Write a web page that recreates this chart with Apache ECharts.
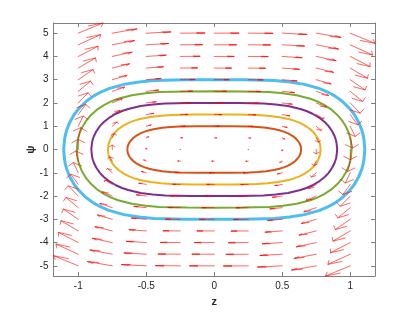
<!DOCTYPE html>
<html>
<head>
<meta charset="utf-8">
<script src="https://cdn.jsdelivr.net/npm/echarts@6/dist/echarts.min.js"></script>
<style>html,body{margin:0;padding:0;background:#fff;}#c{width:415px;height:312px;}</style>
</head>
<body>
<div id="c"></div>
<script>
// Axis ticks
const zTicks = [-1, -0.5, 0, 0.5, 1];
const psiTicks = [-5, -4, -3, -2, -1, 0, 1, 2, 3, 4, 5];

// Quiver grid (arrow tails) and arrow components
const colZ = [-1, -0.75, -0.5, -0.25, 0, 0.25, 0.5, 0.75, 1];
const colDpsi = [0.437, 0.184, 0.0546, 0.0068, 0, -0.0068, -0.0546, -0.184, -0.437];
const rowPsi = [-5, -4.5, -4, -3.5, -3, -2.5, -2, -1.5, -1, -0.5, 0, 0.5, 1, 1.5, 2, 2.5, 3, 3.5, 4, 4.5, 5];
const rowDz = [-0.182, -0.164, -0.146, -0.127, -0.109, -0.091, -0.073, -0.055, -0.036, -0.018, 0, 0.018, 0.036, 0.055, 0.073, 0.091, 0.109, 0.127, 0.146, 0.164, 0.182];

// Closed orbits: upper-right quarter points (z >= 0, psi >= 0)
const orangeZ = [0, 0.128, 0.256, 0.320, 0.383, 0.447, 0.479, 0.511, 0.543, 0.575, 0.594, 0.613, 0.626, 0.633, 0.636, 0.639];
const orangePsi = [1, 0.999, 0.987, 0.968, 0.933, 0.872, 0.827, 0.768, 0.691, 0.586, 0.502, 0.388, 0.279, 0.198, 0.141, 0];
const yellowZ = [0, 0.156, 0.313, 0.391, 0.469, 0.547, 0.587, 0.626, 0.665, 0.704, 0.727, 0.751, 0.766, 0.774, 0.778, 0.782];
const yellowPsi = [1.5, 1.499, 1.481, 1.452, 1.399, 1.308, 1.240, 1.153, 1.037, 0.880, 0.753, 0.582, 0.418, 0.298, 0.211, 0];
const purpleZ = [0, 0.181, 0.362, 0.452, 0.542, 0.633, 0.678, 0.723, 0.768, 0.814, 0.841, 0.868, 0.886, 0.895, 0.899, 0.904];
const purplePsi = [2, 1.998, 1.974, 1.937, 1.866, 1.743, 1.654, 1.537, 1.383, 1.173, 1.004, 0.776, 0.557, 0.397, 0.282, 0];
const greenZ = [0, 0.202, 0.404, 0.505, 0.606, 0.707, 0.758, 0.808, 0.859, 0.909, 0.939, 0.970, 0.990, 1.000, 1.005, 1.010];
const greenPsi = [2.5, 2.498, 2.468, 2.421, 2.332, 2.179, 2.067, 1.921, 1.728, 1.466, 1.255, 0.970, 0.697, 0.496, 0.352, 0];
const blueZ = [0, 0.221, 0.443, 0.553, 0.664, 0.775, 0.830, 0.886, 0.941, 0.996, 1.030, 1.063, 1.085, 1.096, 1.101, 1.107];
const bluePsi = [3, 2.998, 2.961, 2.905, 2.799, 2.615, 2.480, 2.305, 2.074, 1.759, 1.506, 1.164, 0.836, 0.595, 0.423, 0];

const X_MIN = -1.182, X_MAX = 1.182, Y_MIN = -5.437, Y_MAX = 5.437;

function loop(zq, pq) {
  const n = zq.length, pts = [];
  for (let i = 0; i < n; i++) pts.push([zq[i], pq[i]]);
  for (let i = n - 2; i >= 0; i--) pts.push([zq[i], -pq[i]]);
  for (let i = 1; i < n; i++) pts.push([-zq[i], -pq[i]]);
  for (let i = n - 2; i >= 0; i--) pts.push([-zq[i], pq[i]]);
  return pts;
}

const quiverData = [];
for (let i = 0; i < rowPsi.length; i++) {
  for (let j = 0; j < colZ.length; j++) {
    quiverData.push([colZ[j], rowPsi[i], rowDz[i], colDpsi[j]]);
  }
}

function renderArrow(params, api) {
  const x = api.value(0), y = api.value(1), u = api.value(2), v = api.value(3);
  const a = 0.33, b = 0.33;
  const tail = api.coord([x, y]);
  const tip = api.coord([x + u, y + v]);
  const h1 = api.coord([x + u - a * (u + b * v), y + v - a * (v - b * u)]);
  const h2 = api.coord([x + u - a * (u - b * v), y + v - a * (v + b * u)]);
  const style = { stroke: '#ff0000', lineWidth: 0.6, fill: null, lineCap: 'round' };
  return {
    type: 'group',
    children: [
      { type: 'polyline', shape: { points: [tail, tip] }, style: style },
      { type: 'polyline', shape: { points: [h1, tip, h2] }, style: style }
    ]
  };
}

const font = 'Liberation Sans, Arial, Helvetica, sans-serif';
const axisLineStyle = { color: '#808080', width: 1 };
const tickStyle = { color: '#808080', width: 1 };

const chart = echarts.init(document.getElementById('c'), null, { renderer: 'canvas' });
const curves = [
  ['#D95319', orangeZ, orangePsi, 2],
  ['#EDB120', yellowZ, yellowPsi, 2],
  ['#7E2F8E', purpleZ, purplePsi, 2],
  ['#77AC30', greenZ, greenPsi, 2],
  ['#4DBEEE', blueZ, bluePsi, 3]
];

const series = curves.map(function (c) {
  return {
    type: 'line', xAxisIndex: 0, yAxisIndex: 0,
    data: loop(c[1], c[2]), showSymbol: false, symbol: 'none', smooth: false,
    lineStyle: { color: c[0], width: c[3] }, silent: true, animation: false, z: 2
  };
});
series.push({
  type: 'custom', xAxisIndex: 0, yAxisIndex: 0, renderItem: renderArrow,
  data: quiverData, silent: true, animation: false, z: 3, clip: false
});

function fmt(v) { return String(v); }

chart.setOption({
  animation: false,
  backgroundColor: '#ffffff',
  grid: { left: 53.5, right: 40, top: 23, bottom: 35.3, containLabel: false },
  xAxis: [
    {
      type: 'value', min: X_MIN, max: X_MAX, position: 'bottom',
      name: 'z', nameLocation: 'middle', nameGap: 20, nameMoveOverlap: false,
      nameTextStyle: { fontFamily: font, fontSize: 11, fontWeight: 'bold', color: '#262626' },
      axisLine: { show: true, lineStyle: axisLineStyle, onZero: false },
      axisTick: { show: true, inside: true, length: 4, lineStyle: tickStyle, customValues: zTicks },
      axisLabel: { show: true, customValues: zTicks, formatter: fmt, margin: 5, fontFamily: font, fontSize: 10, color: '#262626' },
      splitLine: { show: false }
    },
    {
      type: 'value', min: X_MIN, max: X_MAX, position: 'top',
      axisLine: { show: true, lineStyle: axisLineStyle, onZero: false },
      axisTick: { show: true, inside: true, length: 4, lineStyle: tickStyle, customValues: zTicks },
      axisLabel: { show: false }, splitLine: { show: false }
    }
  ],
  yAxis: [
    {
      type: 'value', min: Y_MIN, max: Y_MAX, position: 'left',
      name: 'ψ', nameLocation: 'middle', nameGap: 17, nameRotate: 90, nameMoveOverlap: false,
      nameTextStyle: { fontFamily: font, fontSize: 11, fontWeight: 'bold', color: '#262626' },
      axisLine: { show: true, lineStyle: axisLineStyle, onZero: false },
      axisTick: { show: true, inside: true, length: 4, lineStyle: tickStyle, customValues: psiTicks },
      axisLabel: { show: true, customValues: psiTicks, formatter: fmt, margin: 5, fontFamily: font, fontSize: 10, color: '#262626' },
      splitLine: { show: false }
    },
    {
      type: 'value', min: Y_MIN, max: Y_MAX, position: 'right',
      axisLine: { show: true, lineStyle: axisLineStyle, onZero: false },
      axisTick: { show: true, inside: true, length: 4, lineStyle: tickStyle, customValues: psiTicks },
      axisLabel: { show: false }, splitLine: { show: false }
    }
  ],
  series: series
});
</script>
</body>
</html>
